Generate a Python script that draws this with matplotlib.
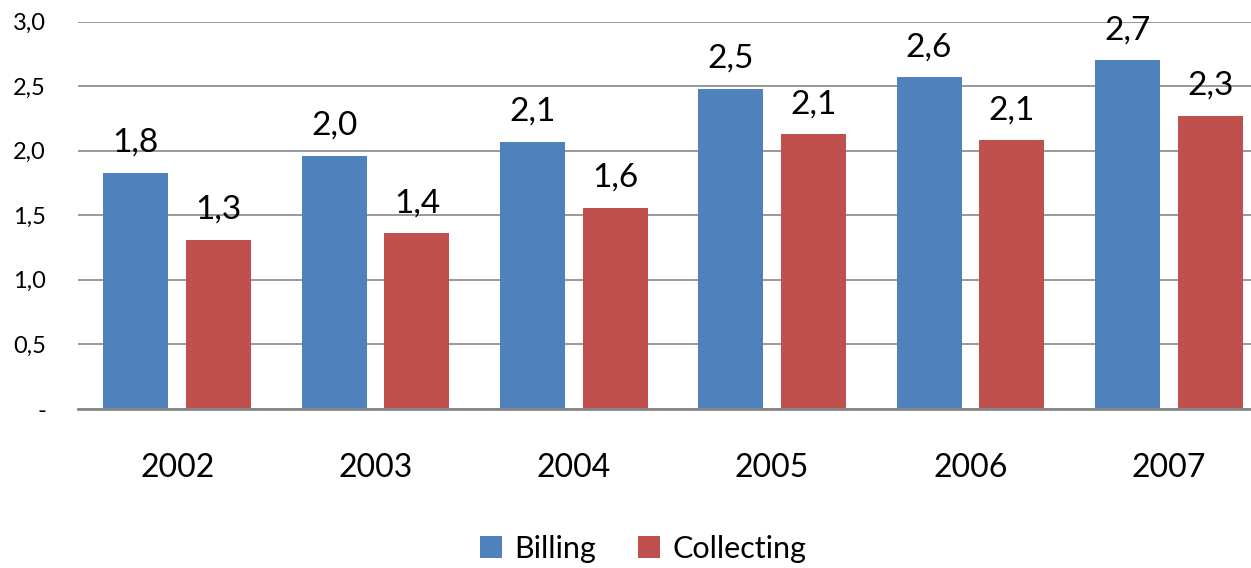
import matplotlib.pyplot as plt
import numpy as np

years = ["2002", "2003", "2004", "2005", "2006", "2007"]
billing = [1.83, 1.96, 2.07, 2.48, 2.57, 2.70]
collecting = [1.31, 1.36, 1.56, 2.13, 2.08, 2.27]
billing_labels = ["1,8", "2,0", "2,1", "2,5", "2,6", "2,7"]
collecting_labels = ["1,3", "1,4", "1,6", "2,1", "2,1", "2,3"]
yticks = [0, 0.5, 1.0, 1.5, 2.0, 2.5, 3.0]
ytick_labels = ["-", "0,5", "1,0", "1,5", "2,0", "2,5", "3,0"]

plt.rcParams["font.family"] = ["Lato", "DejaVu Sans"]

blue = "#4F81BD"
red = "#C0504D"

fig = plt.figure(figsize=(12.51, 5.68), dpi=100)
ax = fig.add_axes([78 / 1251, 1 - 409 / 568, (1268 - 78) / 1251, (409 - 21.5) / 568])

x = np.arange(len(years))
w = 0.328
off = 0.209
b1 = ax.bar(x - off, billing, w, color=blue, label="Billing", zorder=2)
b2 = ax.bar(x + off, collecting, w, color=red, label="Collecting", zorder=2)

for rects, labels in [(b1, billing_labels), (b2, collecting_labels)]:
    for r, lab in zip(rects, labels):
        ax.annotate(lab, (r.get_x() + r.get_width() / 2, r.get_height()),
                    xytext=(0, 15), textcoords="offset points",
                    ha="center", va="baseline", fontsize=24)

ax.set_xlim(-0.5, len(years) - 0.5)
ax.set_ylim(0, 3.0)
ax.set_yticks(yticks)
ax.set_yticklabels(ytick_labels, fontsize=17)
ax.set_xticks(x)
ax.set_xticklabels(years, fontsize=23)
ax.tick_params(axis="y", length=0, pad=23)
ax.tick_params(axis="x", length=0, pad=32)
ax.yaxis.grid(True, color="#878787", linewidth=1.2, zorder=0)
ax.set_axisbelow(True)
for s in ["top", "right", "left"]:
    ax.spines[s].set_visible(False)
ax.spines["bottom"].set_color("#878787")
ax.spines["bottom"].set_linewidth(2)

fig.legend(handles=[b1, b2], loc="center", bbox_to_anchor=(643 / 1251, 1 - 549 / 568),
           ncol=2, frameon=False, fontsize=22, handlelength=0.72, handleheight=0.72,
           handletextpad=0.4, columnspacing=1.4)

fig.savefig("out.png", dpi=100)
